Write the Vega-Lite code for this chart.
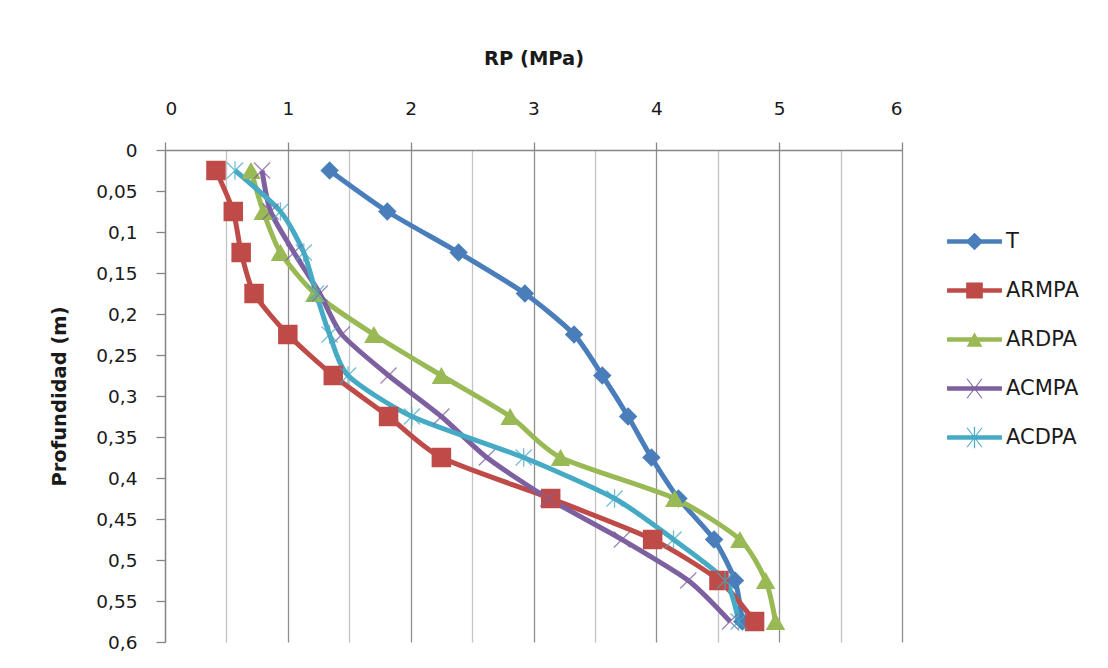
{
  "$schema": "https://vega.github.io/schema/vega-lite/v6.json",
  "width": 737,
  "height": 492,
  "autosize": {"type": "none"},
  "padding": {"left": 165, "top": 150, "right": 206, "bottom": 26},
  "background": "white",
  "config": {
    "font": "DejaVu Sans",
    "view": {"stroke": null},
    "axis": {
      "labelFont": "DejaVu Sans",
      "labelFontSize": 18.5,
      "labelColor": "#1a1a1a",
      "titleFont": "DejaVu Sans",
      "titleFontSize": 19.5,
      "titleFontWeight": "bold",
      "titleColor": "#1a1a1a",
      "domainColor": "#868686",
      "tickColor": "#868686"
    },
    "legend": {
      "labelFont": "DejaVu Sans",
      "labelFontSize": 21,
      "labelColor": "#1a1a1a",
      "title": null,
      "orient": "none",
      "legendX": 785,
      "legendY": 67,
      "padding": 0,
      "symbolSize": 2401,
      "symbolOpacity": 1,
      "symbolStrokeWidth": 0,
      "labelOffset": 7,
      "rowPadding": 14
    }
  },
  "data": {
    "values": [
      {"serie": "T", "prof": 0.025, "rp": 1.34},
      {"serie": "T", "prof": 0.075, "rp": 1.81},
      {"serie": "T", "prof": 0.125, "rp": 2.39},
      {"serie": "T", "prof": 0.175, "rp": 2.93},
      {"serie": "T", "prof": 0.225, "rp": 3.33},
      {"serie": "T", "prof": 0.275, "rp": 3.56},
      {"serie": "T", "prof": 0.325, "rp": 3.77},
      {"serie": "T", "prof": 0.375, "rp": 3.96},
      {"serie": "T", "prof": 0.425, "rp": 4.18},
      {"serie": "T", "prof": 0.475, "rp": 4.47},
      {"serie": "T", "prof": 0.525, "rp": 4.64},
      {"serie": "T", "prof": 0.575, "rp": 4.7},
      {"serie": "ARMPA", "prof": 0.025, "rp": 0.415},
      {"serie": "ARMPA", "prof": 0.075, "rp": 0.556},
      {"serie": "ARMPA", "prof": 0.125, "rp": 0.62},
      {"serie": "ARMPA", "prof": 0.175, "rp": 0.725},
      {"serie": "ARMPA", "prof": 0.225, "rp": 1.0},
      {"serie": "ARMPA", "prof": 0.275, "rp": 1.37},
      {"serie": "ARMPA", "prof": 0.325, "rp": 1.82},
      {"serie": "ARMPA", "prof": 0.375, "rp": 2.25},
      {"serie": "ARMPA", "prof": 0.425, "rp": 3.14},
      {"serie": "ARMPA", "prof": 0.475, "rp": 3.97},
      {"serie": "ARMPA", "prof": 0.525, "rp": 4.51},
      {"serie": "ARMPA", "prof": 0.575, "rp": 4.8},
      {"serie": "ARDPA", "prof": 0.025, "rp": 0.7},
      {"serie": "ARDPA", "prof": 0.075, "rp": 0.8},
      {"serie": "ARDPA", "prof": 0.125, "rp": 0.94},
      {"serie": "ARDPA", "prof": 0.175, "rp": 1.22},
      {"serie": "ARDPA", "prof": 0.225, "rp": 1.7},
      {"serie": "ARDPA", "prof": 0.275, "rp": 2.25},
      {"serie": "ARDPA", "prof": 0.325, "rp": 2.81},
      {"serie": "ARDPA", "prof": 0.375, "rp": 3.22},
      {"serie": "ARDPA", "prof": 0.425, "rp": 4.15},
      {"serie": "ARDPA", "prof": 0.475, "rp": 4.68},
      {"serie": "ARDPA", "prof": 0.525, "rp": 4.89},
      {"serie": "ARDPA", "prof": 0.575, "rp": 4.97},
      {"serie": "ACMPA", "prof": 0.025, "rp": 0.79},
      {"serie": "ACMPA", "prof": 0.075, "rp": 0.86},
      {"serie": "ACMPA", "prof": 0.125, "rp": 1.05},
      {"serie": "ACMPA", "prof": 0.175, "rp": 1.26},
      {"serie": "ACMPA", "prof": 0.225, "rp": 1.44},
      {"serie": "ACMPA", "prof": 0.275, "rp": 1.82},
      {"serie": "ACMPA", "prof": 0.325, "rp": 2.25},
      {"serie": "ACMPA", "prof": 0.375, "rp": 2.62},
      {"serie": "ACMPA", "prof": 0.425, "rp": 3.12},
      {"serie": "ACMPA", "prof": 0.475, "rp": 3.72},
      {"serie": "ACMPA", "prof": 0.525, "rp": 4.26},
      {"serie": "ACMPA", "prof": 0.575, "rp": 4.6},
      {"serie": "ACDPA", "prof": 0.025, "rp": 0.57},
      {"serie": "ACDPA", "prof": 0.075, "rp": 0.94},
      {"serie": "ACDPA", "prof": 0.125, "rp": 1.13},
      {"serie": "ACDPA", "prof": 0.175, "rp": 1.23},
      {"serie": "ACDPA", "prof": 0.225, "rp": 1.34},
      {"serie": "ACDPA", "prof": 0.275, "rp": 1.49},
      {"serie": "ACDPA", "prof": 0.325, "rp": 2.01},
      {"serie": "ACDPA", "prof": 0.375, "rp": 2.92},
      {"serie": "ACDPA", "prof": 0.425, "rp": 3.66},
      {"serie": "ACDPA", "prof": 0.475, "rp": 4.14},
      {"serie": "ACDPA", "prof": 0.525, "rp": 4.56},
      {"serie": "ACDPA", "prof": 0.575, "rp": 4.67}
    ]
  },
  "encoding": {
    "x": {
      "field": "rp",
      "type": "quantitative",
      "scale": {"domain": [0, 6], "nice": false, "zero": true},
      "axis": {
        "orient": "top",
        "title": "RP (MPa)",
        "values": [0, 0.5, 1, 1.5, 2, 2.5, 3, 3.5, 4, 4.5, 5, 5.5, 6],
        "labelExpr": "datum.value % 1 === 0 ? format(datum.value, 'd') : ''",
        "grid": true,
        "gridColor": {"condition": {"test": "datum.value % 1 === 0", "value": "#8e8e8e"}, "value": "#c4c4c4"},
        "gridWidth": 1.3,
        "tickSize": 8,
        "tickWidth": 1.3,
        "tickOpacity": {"condition": {"test": "datum.value % 1 === 0", "value": 1}, "value": 0},
        "domainWidth": 1.3,
        "labelPadding": 24,
        "titlePadding": 31
      }
    },
    "y": {
      "field": "prof",
      "type": "quantitative",
      "scale": {"domain": [0, 0.6], "reverse": true, "nice": false},
      "axis": {
        "title": "Profundidad (m)",
        "values": [0, 0.05, 0.1, 0.15, 0.2, 0.25, 0.3, 0.35, 0.4, 0.45, 0.5, 0.55, 0.6],
        "labelExpr": "replace(format(datum.value, '.2~f'), '.', ',')",
        "grid": false,
        "tickSize": 9,
        "tickWidth": 1.3,
        "domainWidth": 1.3,
        "labelPadding": 19,
        "titlePadding": 26
      }
    },
    "color": {
      "field": "serie",
      "type": "nominal",
      "scale": {
        "domain": ["T", "ARMPA", "ARDPA", "ACMPA", "ACDPA"],
        "range": ["#4a7ebb", "#be4b48", "#98b954", "#7d60a0", "#46aac5"]
      }
    }
  },
  "layer": [
    {
      "mark": {"type": "line", "interpolate": "cardinal", "tension": 0.3, "strokeWidth": 5},
      "encoding": {
        "order": {"field": "prof", "type": "quantitative"}
      }
    },
    {
      "transform": [{"filter": "datum.serie === 'T'"}],
      "mark": {"type": "point", "filled": true, "shape": "diamond", "size": 340, "opacity": 1}
    },
    {
      "transform": [{"filter": "datum.serie === 'ARMPA'"}],
      "mark": {"type": "point", "filled": true, "shape": "square", "size": 380, "opacity": 1}
    },
    {
      "transform": [{"filter": "datum.serie === 'ARDPA'"}],
      "mark": {"type": "point", "filled": true, "shape": "triangle-up", "size": 380, "opacity": 1}
    },
    {
      "transform": [{"filter": "datum.serie === 'ACMPA'"}],
      "mark": {"type": "point", "filled": false, "shape": "M-1,-1L1,1M-1,1L1,-1", "size": 260, "strokeWidth": 1.3, "opacity": 0.75}
    },
    {
      "transform": [{"filter": "datum.serie === 'ACDPA'"}],
      "mark": {"type": "point", "filled": false, "shape": "M-1,-1L1,1M-1,1L1,-1M0,-1.15L0,1.15", "size": 260, "strokeWidth": 1.3, "opacity": 0.75}
    },
    {
      "mark": {"type": "point", "filled": true, "opacity": 0},
      "encoding": {
        "shape": {
          "field": "serie",
          "type": "nominal",
          "scale": {
            "domain": ["T", "ARMPA", "ARDPA", "ACMPA", "ACDPA"],
            "range": [
              "M-1.12,-0.09L1.12,-0.09L1.12,0.09L-1.12,0.09Z M0,-0.36L0.36,0L0,0.36L-0.36,0Z",
              "M-1.12,-0.09L1.12,-0.09L1.12,0.09L-1.12,0.09Z M-0.34,-0.33L0.34,-0.33L0.34,0.33L-0.34,0.33Z",
              "M-1.12,-0.09L1.12,-0.09L1.12,0.09L-1.12,0.09Z M0,-0.3L0.32,0.3L-0.32,0.3Z",
              "M-1.12,-0.09L1.12,-0.09L1.12,0.09L-1.12,0.09Z M-0.33,-0.4L-0.28,-0.4L0.33,0.4L0.28,0.4Z M0.28,-0.4L0.33,-0.4L-0.28,0.4L-0.33,0.4Z",
              "M-1.12,-0.09L1.12,-0.09L1.12,0.09L-1.12,0.09Z M-0.33,-0.4L-0.28,-0.4L0.33,0.4L0.28,0.4Z M0.28,-0.4L0.33,-0.4L-0.28,0.4L-0.33,0.4Z M-0.025,-0.44L0.025,-0.44L0.025,0.44L-0.025,0.44Z"
            ]
          }
        }
      }
    }
  ]
}
